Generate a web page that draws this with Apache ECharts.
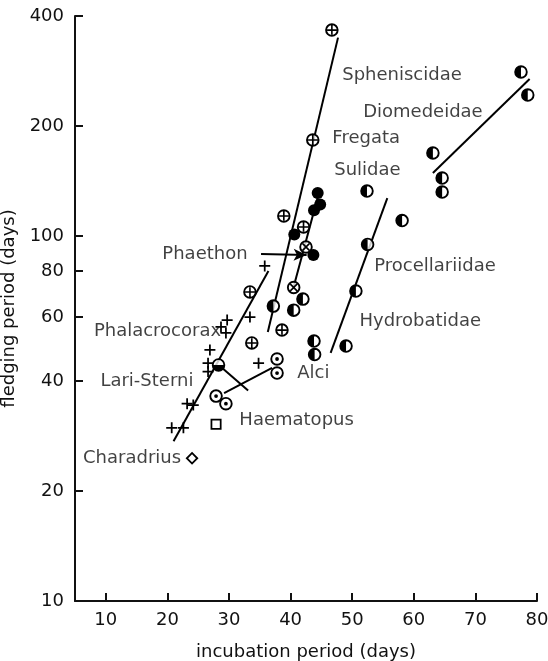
<!DOCTYPE html>
<html><head><meta charset="utf-8">
<script src="https://cdn.jsdelivr.net/npm/echarts@6/dist/echarts.min.js"></script>
<style>html,body{margin:0;padding:0;background:#fff}#c{width:548px;height:661px}</style>
</head><body><div id="c"></div>
<script>
// ---- axis ticks ----
const xTicks = [10, 20, 30, 40, 50, 60, 70, 80];
const yTicks = [10, 20, 40, 60, 80, 100, 200, 400];

// ---- points [incubation days, fledging days] by symbol type ----
const plusCircle = [[46.7, 366], [43.6, 183], [38.9, 113.3], [42.1, 105.7], [33.4, 70.2], [38.6, 55.2], [33.7, 50.9]];
const filledCircle = [[40.6, 100.8], [43.7, 88.6], [44.4, 131], [44.8, 121.8], [43.8, 117.6]];
const crossCircle = [[42.5, 93.2], [40.5, 72.2]];
const halfCircle = [[77.4, 281], [78.5, 243], [63.1, 168.6], [64.6, 144], [64.6, 131.8], [52.4, 132.6], [58.1, 110.1],
  [52.5, 94.7], [50.6, 70.6], [49.0, 49.9], [43.8, 51.5], [43.9, 47.3], [42.0, 67.1], [40.5, 62.6], [37.2, 64.2]];
const lowerHalfCircle = [[28.3, 44.3]];
const dotCircle = [[37.8, 46.0], [37.8, 42.1], [27.9, 36.4], [29.5, 34.7]];
const plusMark = [[35.8, 82.7], [33.4, 59.9], [29.7, 58.8], [28.7, 56.3], [29.5, 54.2], [26.9, 48.7], [26.6, 44.8],
  [26.6, 42.5], [34.8, 44.8], [23.2, 34.7], [24.2, 34.4], [20.7, 29.8], [22.6, 29.8]];
const squareMark = [[27.9, 30.5]];
const diamondMark = [[24.0, 24.6]];

// ---- fitted lines (end points) ----
const lineSpheniscidae = [[47.7, 349], [36.3, 54.5]];
const lineFilled = [[44.8, 135.1], [40.4, 71.5]];
const lineLariPhalacrocorax = [[36.4, 80.1], [21.0, 27.4]];
const lineHaematopusA = [[28.8, 43.6], [33.1, 37.7]];
const lineAlciB = [[29.2, 37.1], [37.0, 43.5]];
const lineProcellariidae = [[55.7, 126.9], [46.5, 47.8]];
const lineDiomedeidae = [[63.1, 148.6], [78.8, 268.8]];
const phaethonArrow = [[35.2, 89.2], [42.6, 88.6]];

// ---- family labels ----
const familyNames = ['Spheniscidae', 'Diomedeidae', 'Fregata', 'Sulidae', 'Procellariidae', 'Hydrobatidae',
  'Phaethon', 'Alci', 'Haematopus', 'Phalacrocorax', 'Lari-Sterni', 'Charadrius'];
const familyAnchors = [[48.3, 275.6], [51.7, 218.3], [46.7, 184.7], [47.0, 151.4], [53.5, 82.7], [51.1, 58.4],
  [19.1, 89.2], [41.0, 42.1], [31.6, 31.3], [28.8, 54.9], [24.3, 40.0], [22.3, 24.6]];
const endAnchored = ['Phalacrocorax', 'Lari-Sterni', 'Charadrius'];

// ---- symbol shapes ----
const RING = 'M50 0A50 50 0 1 1 50 100A50 50 0 1 1 50 0Z M50 14A36 36 0 1 0 50 86A36 36 0 1 0 50 14Z';
const S_PLUSC = 'path://' + RING + ' M44 15L56 15L56 44L85 44L85 56L56 56L56 85L44 85L44 56L15 56L15 44L44 44Z';
const S_CROSSC = 'path://' + RING + ' M50 41.5L70.5 21L79 29.5L58.5 50L79 70.5L70.5 79L50 58.5L29.5 79L21 70.5L41.5 50L21 29.5L29.5 21Z';
const S_HALF = 'path://' + RING + ' M50 90A40 40 0 0 1 50 10Z';
const S_LOWHALF = 'path://' + RING + ' M90 50A40 40 0 0 1 10 50Z';
const S_DOT = 'path://' + RING + ' M50 36A14 14 0 1 1 50 64A14 14 0 1 1 50 36Z';
const S_PLUS = 'path://M42 0L58 0L58 42L100 42L100 58L58 58L58 100L42 100L42 58L0 58L0 42L42 42Z';
const S_SQUARE = 'path://M0 0L100 0L100 100L0 100Z M16 16L16 84L84 84L84 16Z';
const S_DIAMOND = 'path://M50 0L100 50L50 100L0 50Z M50 20L20 50L50 80L80 50Z';

const FONT = 'DejaVu Sans';
const INK = '#111';
const FS = 18;

function marks(data, symbol, size, color) {
  return { type: 'scatter', data: data, symbol: symbol, symbolSize: size, z: 5, silent: true,
    itemStyle: { color: color || '#000', opacity: 1 } };
}
function seg(data) {
  return { type: 'line', data: data, showSymbol: false, symbol: 'none', z: 3, silent: true,
    lineStyle: { color: '#000', width: 2 } };
}

const ringed = [].concat(plusCircle, crossCircle, halfCircle, lowerHalfCircle, dotCircle);

const labelData = familyNames.map((n, i) => ({
  name: n, value: familyAnchors[i],
  label: { position: endAnchored.indexOf(n) >= 0 ? 'left' : 'right' }
}));

const chart = echarts.init(document.getElementById('c'), null, { renderer: 'canvas' });
chart.setOption({
  animation: false,
  backgroundColor: '#fff',
  grid: { left: 75, right: 11, top: 16, bottom: 60, containLabel: false, outerBoundsMode: 'none' },
  xAxis: {
    type: 'value', min: 5, max: 80,
    name: 'incubation period (days)', nameLocation: 'middle', nameGap: 42,
    nameTextStyle: { fontFamily: FONT, fontSize: FS, color: INK },
    axisLine: { show: true, lineStyle: { color: '#111', width: 2 } },
    axisTick: { show: true, inside: true, length: 8, customValues: xTicks, lineStyle: { color: '#111', width: 2 } },
    axisLabel: { customValues: xTicks, fontFamily: FONT, fontSize: FS, color: INK, margin: 10 },
    splitLine: { show: false }
  },
  yAxis: {
    type: 'log', logBase: 10, min: 10, max: 400,
    name: 'fledging period (days)', nameLocation: 'middle', nameGap: 54, nameRotate: 90,
    nameTextStyle: { fontFamily: FONT, fontSize: FS, color: INK },
    axisLine: { show: true, lineStyle: { color: '#111', width: 2 } },
    axisTick: { show: true, inside: true, length: 8, customValues: yTicks, lineStyle: { color: '#111', width: 2 } },
    axisLabel: { customValues: yTicks, fontFamily: FONT, fontSize: FS, color: INK, margin: 11 },
    splitLine: { show: false }, minorTick: { show: false }
  },
  series: [
    seg(lineSpheniscidae), seg(lineFilled), seg(lineLariPhalacrocorax), seg(lineHaematopusA),
    seg(lineAlciB), seg(lineProcellariidae), seg(lineDiomedeidae),
    {
      type: 'line', data: [], z: 3, silent: true,
      markLine: {
        silent: true, animation: false, symbol: ['none', 'arrow'], symbolSize: [9, 13],
        label: { show: false }, lineStyle: { color: '#000', width: 2, type: 'solid' },
        emphasis: { disabled: true },
        data: [[{ coord: phaethonArrow[0] }, { coord: phaethonArrow[1] }]]
      }
    },
    { type: 'scatter', data: ringed, symbol: 'circle', symbolSize: 12, z: 4, silent: true, itemStyle: { color: '#fff' } },
    marks(plusCircle, S_PLUSC, 13.5),
    marks(crossCircle, S_CROSSC, 13.5),
    marks(halfCircle, S_HALF, 13.5),
    marks(lowerHalfCircle, S_LOWHALF, 13.5),
    marks(dotCircle, S_DOT, 13.5),
    marks(filledCircle, 'circle', 12),
    marks(plusMark, S_PLUS, 11),
    marks(squareMark, S_SQUARE, 11),
    marks(diamondMark, S_DIAMOND, 13),
    {
      type: 'scatter', data: labelData, symbolSize: 1, z: 6, silent: true,
      itemStyle: { color: 'rgba(0,0,0,0)' },
      label: { show: true, distance: 0, formatter: p => p.name, fontFamily: FONT, fontSize: FS, color: INK }
    }
  ]
});
</script></body></html>
